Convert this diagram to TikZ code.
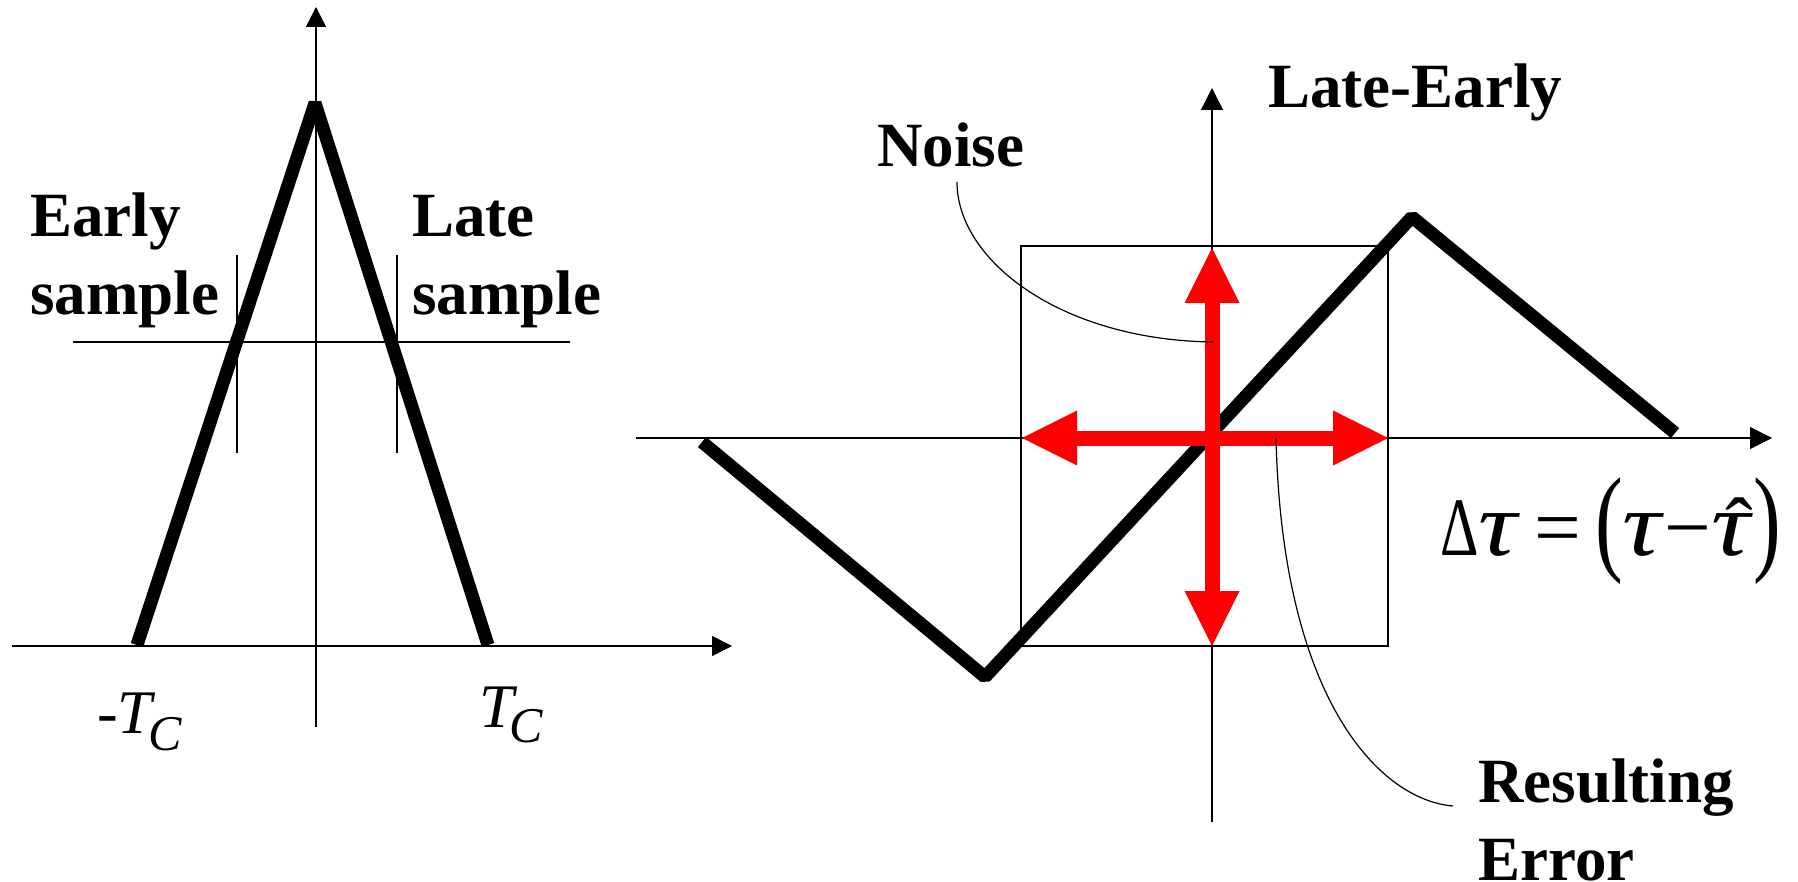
\documentclass[tikz,border=0pt]{standalone}
\usepackage{fontspec}
\setmainfont{Liberation Serif}
\usepackage{graphicx}
\usetikzlibrary{arrows.meta}
\definecolor{arrowred}{RGB}{255,0,0}
\newcommand\bigtauglyph{\scalebox{1.3}[1.1]{\textit{τ}}}
\newcommand\tauhatglyph{\ooalign{\bigtauglyph\cr\hidewidth\kern0.16em ˆ\hidewidth\cr}}
\newcommand\lparenbig{\raisebox{-0.06em}{\scalebox{1}[1.42]{(}}}
\newcommand\rparenbig{\raisebox{-0.06em}{\scalebox{1}[1.42]{)}}}
\begin{document}
\begin{tikzpicture}[x=1pt,y=-1pt,
  axisline/.style={line width=1.4pt,-{Triangle[length=20pt,width=20pt]}},
  bigaxis/.style={line width=1.4pt,-{Triangle[length=22pt,width=22pt]}},
  thinline/.style={line width=1.3pt},
  heavy/.style={line width=13pt,line join=bevel},
  redarrow/.style={draw=arrowred,line width=15pt,
    {Triangle[length=55pt,width=55pt,line width=0pt]}-{Triangle[length=55pt,width=55pt,line width=0pt]}},
  leader/.style={line width=1.2pt},
  lbl/.style={font=\fontsize{63}{76}\selectfont\bfseries,inner sep=0pt,anchor=base west},
  tclbl/.style={font=\fontsize{62}{70}\selectfont,inner sep=0pt,anchor=base west}]
\useasboundingbox (0,0) rectangle (1798,882);
\fill[white] (0,0) rectangle (1798,882);

% ---------- left diagram ----------
\draw[axisline] (12,646) -- (732,646);
\draw[axisline] (316,727) -- (316,7);
\draw[thinline] (73,342) -- (570,342);
\draw[thinline] (237,255) -- (237,453);
\draw[thinline] (397,255) -- (397,453);
\draw[heavy] (137,645) -- (315,103) -- (488,645);

\node[lbl] (early) at (30,237) {Early};
\node[lbl] (earlys) at (30,315) {sample};
\node[lbl] (late) at (412,237) {Late};
\node[lbl] (lates) at (412,315) {sample};
\node[tclbl] (mtc) at (97,733) {\textit{-T\kern-4pt\raisebox{-17pt}{\fontsize{50}{50}\selectfont C}}};
\node[tclbl] (tc) at (479,727) {\textit{T\kern-4pt\raisebox{-15pt}{\fontsize{50}{50}\selectfont C}}};

% ---------- right diagram ----------
\draw[bigaxis] (636,438) -- (1772,438);
\draw[bigaxis] (1212,822) -- (1212,88);
\draw[thinline] (1021,246) rectangle (1388,646);
\draw[heavy] (702,442) -- (985,677) -- (1412,217) -- (1675,433);

\draw[redarrow] (1022,438) -- (1388,438);
\draw[redarrow] (1212,248) -- (1212,646);

\node[lbl] (lateearly) at (1268,108) {Late-Early};
\node[lbl] (noise) at (877,167) {Noise};
\node[lbl] (res) at (1478,802) {Resulting};
\node[lbl] (err) at (1478,880) {Error};

\node[inner sep=0pt,anchor=base west] (formula) at (1440,555)
  {\fontsize{83}{90}\selectfont\scalebox{0.72}[1]{Δ}\bigtauglyph\kern14pt=\kern14pt\lparenbig\bigtauglyph −\tauhatglyph\rparenbig};

\coordinate (noisestart) at (957,182);
\coordinate (noiseend) at (1213,342);
\coordinate (errstart) at (1276,438);
\coordinate (errend) at (1453,806);
\draw[leader] (noisestart) .. controls (957,260) and (1060,340) .. (noiseend);
\draw[leader] (errstart) .. controls (1282,700) and (1380,800) .. (errend);
\end{tikzpicture}
\end{document}
